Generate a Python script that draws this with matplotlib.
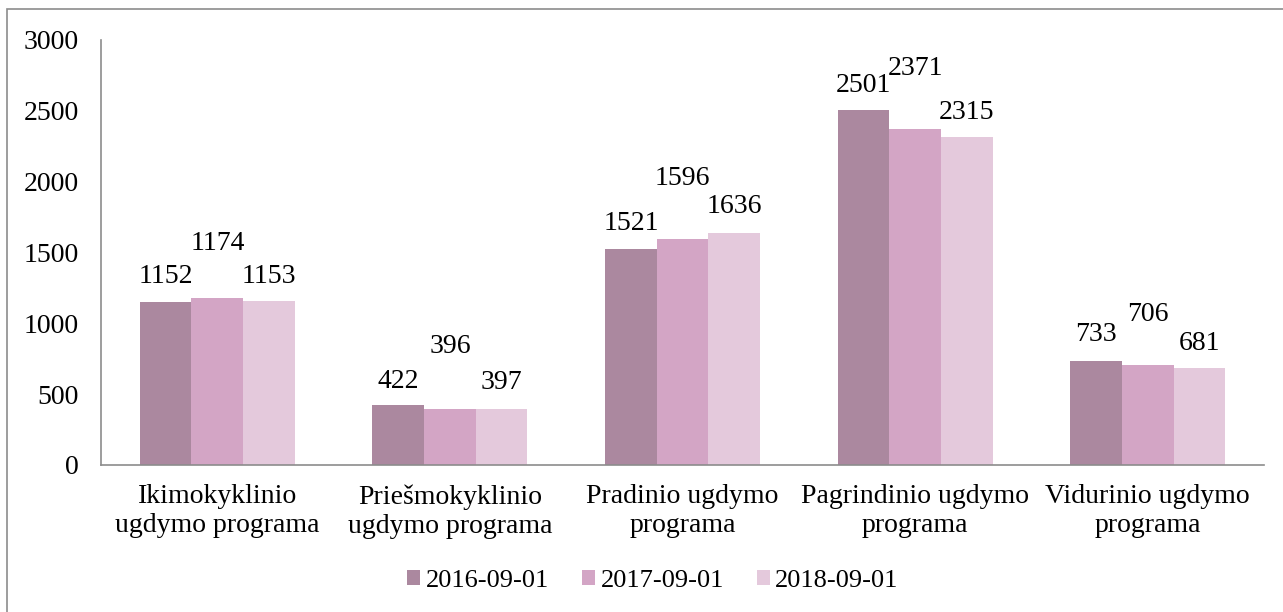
import matplotlib.pyplot as plt
import numpy as np
from matplotlib.patches import Patch, Rectangle

plt.rcParams['font.family'] = ['Liberation Serif', 'DejaVu Serif']

categories = ['Ikimokyklinio\nugdymo programa', 'Priešmokyklinio\nugdymo programa',
              'Pradinio ugdymo\nprograma', 'Pagrindinio ugdymo\nprograma',
              'Vidurinio ugdymo\nprograma']
series_names = ['2016-09-01', '2017-09-01', '2018-09-01']
vals_2016 = [1152, 422, 1521, 2501, 733]
vals_2017 = [1174, 396, 1596, 2371, 706]
vals_2018 = [1153, 397, 1636, 2315, 681]

colors = ['#AB889F', '#D3A5C5', '#E4C9DC']
# label offsets above bar tops (pixels)
label_offsets = [[25, 24, 26, 25, 27],
                 [55, 62, 60, 60, 50],
                 [25, 26, 26, 24, 25]]
fs = 20

fig = plt.figure(figsize=(12.83, 6.12), dpi=100)
ax = fig.add_axes([101 / 1283, 1 - 465 / 612, 1163 / 1283, 425.5 / 612])

x = np.arange(len(categories))
width = 0.222
all_vals = [vals_2016, vals_2017, vals_2018]
for i, (vals, name, c) in enumerate(zip(all_vals, series_names, colors)):
    pos = x + (i - 1) * width
    ax.bar(pos, vals, width, color=c, label=name)
    for p, v, off in zip(pos, vals, label_offsets[i]):
        ax.annotate(str(v), (p, v), xytext=(0, off), textcoords='offset pixels',
                    ha='center', va='center', fontsize=fs)

ax.set_xlim(-0.5, len(categories) - 0.5)
ax.set_ylim(0, 3000)
ax.set_yticks(range(0, 3001, 500))
ax.set_xticks(x)
ax.set_xticklabels(categories, fontsize=fs, linespacing=1.2)
ax.tick_params(axis='y', length=0, pad=16, labelsize=fs)
ax.tick_params(axis='x', length=0, pad=14)
for s in ['top', 'right']:
    ax.spines[s].set_visible(False)
for s in ['left', 'bottom']:
    ax.spines[s].set_color('#8C8C8C')
    ax.spines[s].set_linewidth(1.2)

handles = [Patch(facecolor=c, edgecolor='none') for c in colors]
fig.legend(handles, series_names, loc='center', bbox_to_anchor=(653 / 1283, 1 - 581 / 612),
           ncol=3, frameon=False, fontsize=19, handlelength=0.5, handleheight=0.5,
           handletextpad=0.2, columnspacing=1.25)

fig.patches.append(Rectangle((7 / 1283, -0.01), 1.2, 1 - 9 / 612 + 0.01,
                             transform=fig.transFigure, fill=False,
                             edgecolor='#8C8C8C', linewidth=1.2))

fig.savefig('out.png', dpi=100)
